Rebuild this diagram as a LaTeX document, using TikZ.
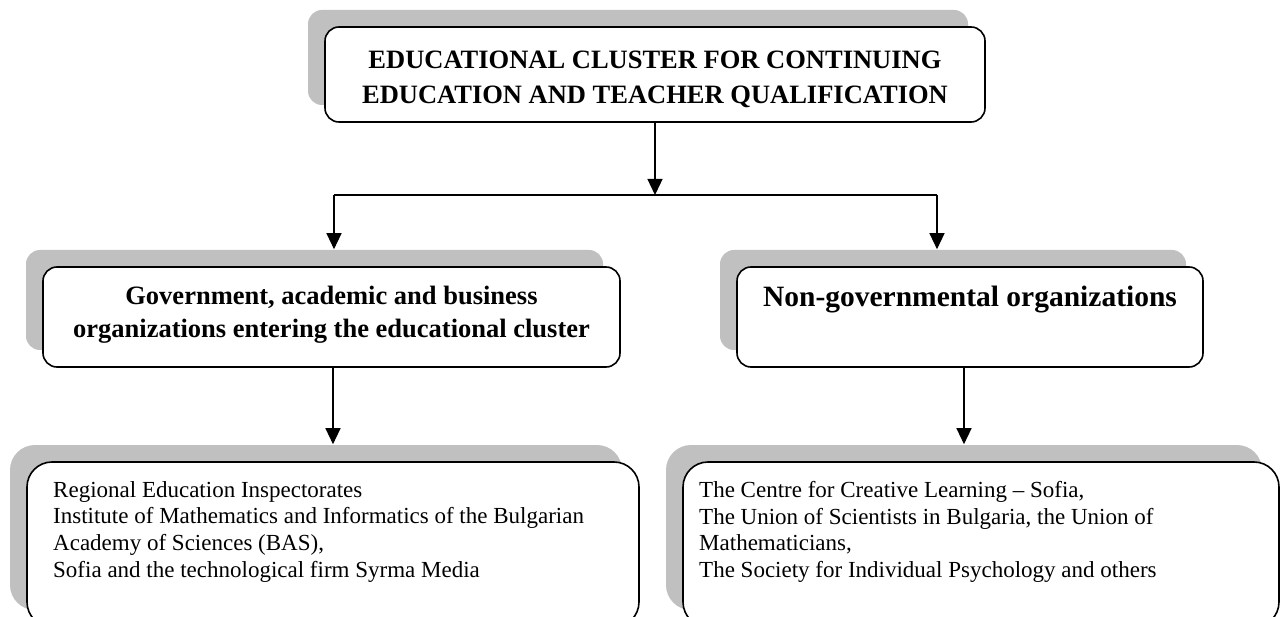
\documentclass[tikz,border=0pt]{standalone}
\usepackage{fontspec}
\setmainfont{Liberation Serif}
\usetikzlibrary{shadows,arrows.meta}
\definecolor{shadowgray}{HTML}{C0C0C0}
\tikzset{
  box/.style={draw, line width=1.6pt, fill=white, rounded corners=#1, inner sep=0pt,
    general shadow={fill=shadowgray, shadow xshift=-17pt, shadow yshift=17pt}},
  box/.default=14pt,
  arr/.style={line width=1.3pt, -{Triangle[width=15pt,length=16pt]}},
  conn/.style={line width=1.3pt},
  toptext/.style={font=\bfseries\fontsize{26.5}{35}\selectfont, align=center},
  midtext/.style={font=\bfseries\fontsize{26.5}{33}\selectfont, align=center},
  ngotext/.style={font=\bfseries\fontsize{29.5}{33}\selectfont, align=center},
  bottext/.style={font=\fontsize{23}{26.7}\selectfont, align=left, inner sep=0pt, anchor=north west},
}
\begin{document}
\begin{tikzpicture}[x=1pt,y=-1pt]
\useasboundingbox (0,0) rectangle (1282,617);
% boxes
\node[box, minimum width=660pt, minimum height=95pt] (top) at (655,74.5) {};
\node[toptext] (topt) at (655,79)
  {EDUCATIONAL CLUSTER FOR CONTINUING\\EDUCATION AND TEACHER QUALIFICATION};
\node[box, minimum width=577pt, minimum height=100pt] (midL) at (331.5,317) {};
\node[midtext] (midLt) at (331.5,315)
  {Government, academic and business\\organizations entering the educational cluster};
\node[box, minimum width=466pt, minimum height=100pt] (midR) at (970,317) {};
\node[ngotext] (midRt) at (970,300) {Non-governmental organizations};
\node[box=25pt, minimum width=612pt, minimum height=165pt] (botL) at (333,544.5) {};
\node[box=25pt, minimum width=596pt, minimum height=165pt] (botR) at (981,544.5) {};
\node[bottext] (botLt) at (53,481)
  {Regional Education Inspectorates\\
   Institute of Mathematics and Informatics of the Bulgarian\\
   Academy of Sciences (BAS),\\
   Sofia and the technological firm Syrma Media};
\node[bottext] (botRt) at (699,481)
  {The Centre for Creative Learning -- Sofia,\\
   The Union of Scientists in Bulgaria, the Union of\\
   Mathematicians,\\
   The Society for Individual Psychology and others};
% connectors
\coordinate (j) at (655,195);
\coordinate (jl) at (334,195);
\coordinate (jr) at (937,195);
\draw[arr] (top.south) -- (j);
\draw[conn] (jl) -- (jr);
\draw[arr] (jl) -- ([yshift=17pt]jl |- midL.north);
\draw[arr] (jr) -- ([yshift=17pt]jr |- midR.north);
\draw[arr] ([xshift=1.5pt]midL.south) -- ([xshift=1.5pt,yshift=17pt]midL.south |- botL.north);
\draw[arr] ([xshift=-6pt]midR.south) -- ([xshift=-6pt,yshift=17pt]midR.south |- botR.north);
\end{tikzpicture}
\end{document}
